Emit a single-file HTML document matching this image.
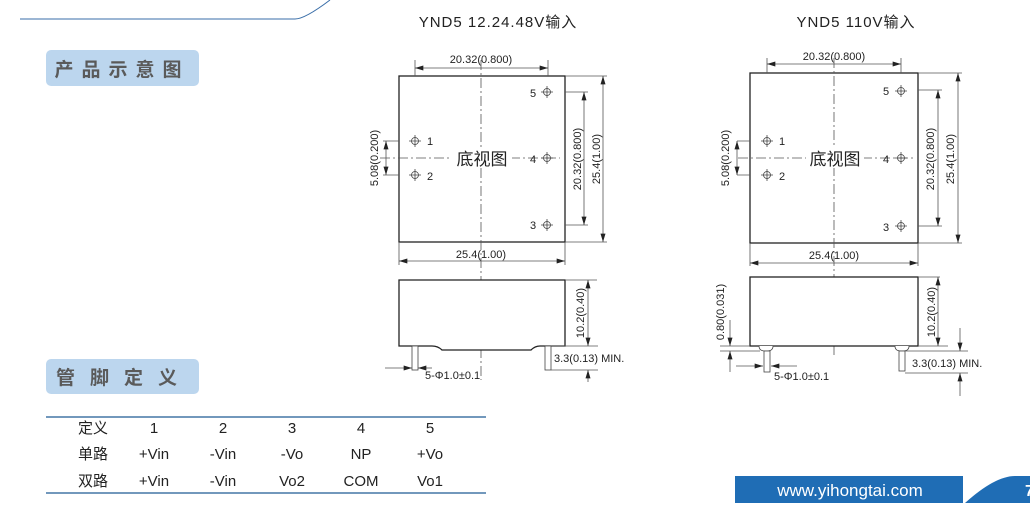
<!DOCTYPE html>
<html><head><meta charset="utf-8"><style>
body{margin:0;background:#fff;}
svg{display:block;font-family:"Liberation Sans","Noto Sans CJK SC",sans-serif;}
.k{stroke:#222;stroke-width:1.3;fill:#fff}
.t{stroke:#555;stroke-width:0.8;fill:none}
.c{stroke:#555;stroke-width:0.8;stroke-dasharray:10 3 2 3;fill:none}
.d{font-size:11px;fill:#222}
.tb{font-size:15px;fill:#222;text-anchor:middle}
</style></head><body>
<svg width="1030" height="517" viewBox="0 0 1030 517">
<defs>
<marker id="a" viewBox="0 0 10 6" refX="10" refY="3" markerWidth="9" markerHeight="5" orient="auto-start-reverse" markerUnits="userSpaceOnUse"><path d="M0,0L10,3L0,6z" fill="#222"/></marker>
<g id="pin"><circle r="3.5" fill="none" stroke="#444" stroke-width="0.8"/><path d="M-6,0H6M0,-6V6" stroke="#444" stroke-width="0.8"/></g>
</defs>
<!-- header -->
<path d="M20,19H295Q305,19 330,0" stroke="#3a6ea8" stroke-width="1" fill="none"/>
<rect x="46" y="50" width="153" height="36" rx="5" fill="#bcd6ee"/>
<text x="122" y="76" text-anchor="middle" font-size="19" font-weight="bold" fill="#5a5a5a" letter-spacing="8">产品示意图</text>
<rect x="46" y="359" width="153" height="35" rx="5" fill="#bcd6ee"/>
<text x="124" y="384" text-anchor="middle" font-size="19" font-weight="bold" fill="#5a5a5a" letter-spacing="15">管脚定义</text>
<!-- titles -->
<text x="498" y="27" text-anchor="middle" font-size="15" fill="#222" letter-spacing="1">YND5 12.24.48V输入</text>
<text x="856" y="27" text-anchor="middle" font-size="15" fill="#222" letter-spacing="1">YND5 110V输入</text>

<!-- LEFT diagram -->
<rect class="k" x="399" y="76" width="166" height="166"/>
<path class="c" d="M481,60V380M380,158H455M510,158H560"/>
<rect x="452" y="148" width="60" height="20" fill="#fff"/>
<text x="482" y="165" text-anchor="middle" font-size="17" fill="#222">底视图</text>
<use href="#pin" x="415" y="141"/><use href="#pin" x="415" y="175"/>
<use href="#pin" x="547" y="92"/><use href="#pin" x="547" y="158"/><use href="#pin" x="547" y="225"/>
<text class="d" x="427" y="145">1</text><text class="d" x="427" y="180">2</text>
<text class="d" x="530" y="97">5</text><text class="d" x="530" y="163">4</text><text class="d" x="530" y="229">3</text>
<path class="t" d="M415,60V76M548,60V76M565,92H588M565,225H588M565,76H607M565,242H607M383,141H399M383,175H399M399,242V265M565,242V265"/>
<path class="t" marker-start="url(#a)" marker-end="url(#a)" d="M415,68H548"/>
<path class="t" marker-start="url(#a)" marker-end="url(#a)" d="M584,92V225"/>
<path class="t" marker-start="url(#a)" marker-end="url(#a)" d="M603,76V242"/>
<path class="t" marker-start="url(#a)" marker-end="url(#a)" d="M386,141V175"/>
<path class="t" marker-start="url(#a)" marker-end="url(#a)" d="M399,261H565"/>
<text class="d" x="481" y="63" text-anchor="middle">20.32(0.800)</text>
<text class="d" x="481" y="258" text-anchor="middle">25.4(1.00)</text>
<text class="d" transform="translate(581,159) rotate(-90)" text-anchor="middle">20.32(0.800)</text>
<text class="d" transform="translate(600,159) rotate(-90)" text-anchor="middle">25.4(1.00)</text>
<text class="d" transform="translate(378,158) rotate(-90)" text-anchor="middle">5.08(0.200)</text>
<!-- side left -->
<path d="M399,346V280H565V346H540Q535,346 531,350H442Q438,346 432,346Z" fill="#fff" stroke="#222" stroke-width="1.3"/>
<rect x="412" y="346" width="6" height="24" fill="#fff" stroke="#444" stroke-width="0.8"/>
<rect x="545" y="346" width="6" height="24" fill="#fff" stroke="#444" stroke-width="0.8"/>
<path class="t" d="M565,280H597M551,346H598M551,370H598"/>
<path class="t" marker-start="url(#a)" marker-end="url(#a)" d="M588,280V346"/>
<path class="t" marker-end="url(#a)" d="M588,382V370"/>
<path class="t" marker-end="url(#a)" d="M385,368H412"/><path class="t" marker-end="url(#a)" d="M432,368H418"/>
<text class="d" transform="translate(584,313) rotate(-90)" text-anchor="middle">10.2(0.40)</text>
<text class="d" x="554" y="362">3.3(0.13) MIN.</text>
<text class="d" x="425" y="379">5-Φ1.0±0.1</text>

<!-- RIGHT diagram -->
<rect class="k" x="750" y="73" width="168" height="170"/>
<path class="c" d="M834,58V355M738,158H808M862,158H915"/>
<rect x="806" y="148" width="58" height="20" fill="#fff"/>
<text x="835" y="165" text-anchor="middle" font-size="17" fill="#222">底视图</text>
<use href="#pin" x="767" y="141"/><use href="#pin" x="767" y="175"/>
<use href="#pin" x="901" y="91"/><use href="#pin" x="901" y="158"/><use href="#pin" x="901" y="226"/>
<text class="d" x="779" y="145">1</text><text class="d" x="779" y="180">2</text>
<text class="d" x="883" y="95">5</text><text class="d" x="883" y="163">4</text><text class="d" x="883" y="231">3</text>
<path class="t" d="M767,58V73M901,58V73M918,90H942M918,226H942M918,73H962M918,243H962M737,141H750M737,175H750M750,243V266M918,243V266"/>
<path class="t" marker-start="url(#a)" marker-end="url(#a)" d="M767,64H901"/>
<path class="t" marker-start="url(#a)" marker-end="url(#a)" d="M938,90V226"/>
<path class="t" marker-start="url(#a)" marker-end="url(#a)" d="M958,73V243"/>
<path class="t" marker-start="url(#a)" marker-end="url(#a)" d="M737,141V175"/>
<path class="t" marker-start="url(#a)" marker-end="url(#a)" d="M750,263H918"/>
<text class="d" x="834" y="60" text-anchor="middle">20.32(0.800)</text>
<text class="d" x="834" y="259" text-anchor="middle">25.4(1.00)</text>
<text class="d" transform="translate(934,159) rotate(-90)" text-anchor="middle">20.32(0.800)</text>
<text class="d" transform="translate(954,159) rotate(-90)" text-anchor="middle">25.4(1.00)</text>
<text class="d" transform="translate(729,158) rotate(-90)" text-anchor="middle">5.08(0.200)</text>
<!-- side right -->
<rect class="k" x="750" y="277" width="168" height="69"/>
<path d="M759,346q0,5 6,5h2q6,0 6,-5M895,346q0,5 6,5h2q6,0 6,-5" stroke="#444" stroke-width="0.8" fill="#fff"/>
<rect x="764" y="351" width="6" height="21" fill="#fff" stroke="#444" stroke-width="0.8"/>
<rect x="899" y="351" width="6" height="20" fill="#fff" stroke="#444" stroke-width="0.8"/>
<path class="t" d="M918,277H940M918,346H948M905,351H968M905,373H968M720,346H750M720,351H760"/>
<path class="t" marker-start="url(#a)" marker-end="url(#a)" d="M938,277V346"/>
<path class="t" marker-end="url(#a)" d="M730,320V346"/><path class="t" marker-end="url(#a)" d="M730,372V351"/>
<path class="t" marker-end="url(#a)" d="M960,328V351"/><path class="t" marker-end="url(#a)" d="M960,396V373"/>
<path class="t" marker-end="url(#a)" d="M736,366H763"/><path class="t" marker-end="url(#a)" d="M797,366H771"/>
<text class="d" transform="translate(935,312) rotate(-90)" text-anchor="middle">10.2(0.40)</text>
<text class="d" transform="translate(724,312) rotate(-90)" text-anchor="middle">0.80(0.031)</text>
<text class="d" x="912" y="367">3.3(0.13) MIN.</text>
<text class="d" x="774" y="380">5-Φ1.0±0.1</text>

<!-- table -->
<path d="M46,417H486M46,493H486" stroke="#1f5a94" stroke-width="1.3"/>
<g class="tb">
<text x="93" y="433">定义</text><text x="154" y="433">1</text><text x="223" y="433">2</text><text x="292" y="433">3</text><text x="361" y="433">4</text><text x="430" y="433">5</text>
<text x="93" y="459">单路</text><text x="154" y="459">+Vin</text><text x="223" y="459">-Vin</text><text x="292" y="459">-Vo</text><text x="361" y="459">NP</text><text x="430" y="459">+Vo</text>
<text x="93" y="486">双路</text><text x="154" y="486">+Vin</text><text x="223" y="486">-Vin</text><text x="292" y="486">Vo2</text><text x="361" y="486">COM</text><text x="430" y="486">Vo1</text>
</g>

<!-- footer -->
<rect x="735" y="476" width="228" height="27" fill="#1f6db5"/>
<text x="850" y="496" text-anchor="middle" font-size="17" fill="#fff">www.yihongtai.com</text>
<path d="M965,503Q995,476 1015,476H1030V503Z" fill="#1f6db5"/>
<text x="1025" y="496" font-size="16" font-weight="bold" fill="#fff">7</text>
</svg>
</body></html>
